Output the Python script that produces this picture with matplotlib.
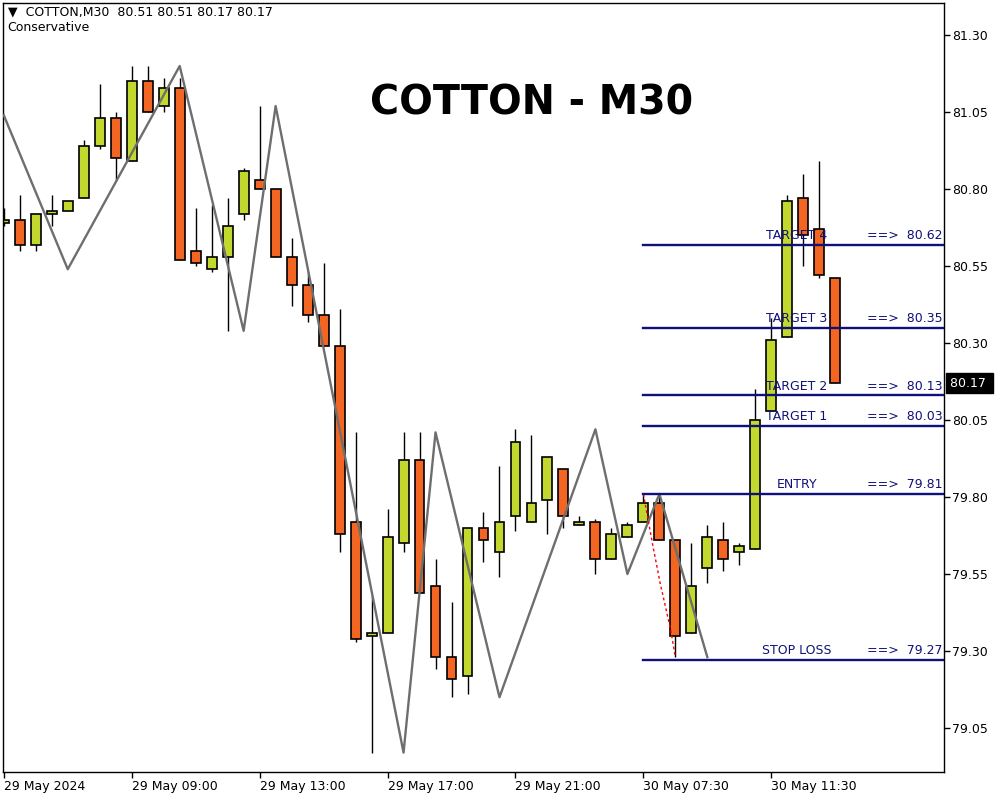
import numpy as np
import matplotlib.pyplot as plt
import matplotlib.transforms as mtransforms


# =========================
# Data (COTTON, M30)
# =========================

opens = [
    80.69, 80.70, 80.62, 80.72, 80.73, 80.77, 80.94, 81.03, 80.89, 81.15,
    81.07, 81.13, 80.60, 80.54, 80.58, 80.72, 80.83, 80.80, 80.58, 80.49,
    80.39, 80.29, 79.72, 79.35, 79.36, 79.65, 79.92, 79.51, 79.28, 79.22,
    79.70, 79.62, 79.74, 79.72, 79.79, 79.89, 79.71, 79.72, 79.60, 79.67,
    79.72, 79.78, 79.66, 79.36, 79.57, 79.66, 79.62, 79.63, 80.08, 80.32,
    80.77, 80.67, 80.51,
]

highs = [
    80.74, 80.78, 80.72, 80.78, 80.76, 80.96, 81.14, 81.05, 81.20, 81.20,
    81.16, 81.16, 80.74, 80.75, 80.77, 80.87, 81.07, 80.80, 80.64, 80.53,
    80.56, 80.41, 80.01, 79.48, 79.76, 80.01, 80.01, 79.60, 79.46, 79.70,
    79.75, 79.90, 80.02, 80.00, 79.93, 79.89, 79.74, 79.73, 79.70, 79.72,
    79.81, 79.81, 79.66, 79.65, 79.71, 79.72, 79.65, 80.15, 80.38, 80.78,
    80.85, 80.89, 80.51,
]

lows = [
    80.68, 80.60, 80.60, 80.68, 80.73, 80.77, 80.93, 80.83, 80.89, 81.05,
    81.05, 80.57, 80.55, 80.53, 80.34, 80.70, 80.80, 80.58, 80.42, 80.37,
    80.29, 79.62, 79.33, 78.97, 79.36, 79.62, 79.49, 79.24, 79.15, 79.16,
    79.59, 79.54, 79.69, 79.72, 79.68, 79.70, 79.71, 79.55, 79.60, 79.67,
    79.72, 79.66, 79.28, 79.36, 79.52, 79.56, 79.58, 79.63, 80.08, 80.32,
    80.55, 80.51, 80.17,
]

closes = [
    80.70, 80.62, 80.72, 80.73, 80.76, 80.94, 81.03, 80.90, 81.15, 81.05,
    81.13, 80.57, 80.56, 80.58, 80.68, 80.86, 80.80, 80.58, 80.49, 80.39,
    80.29, 79.68, 79.34, 79.36, 79.67, 79.92, 79.49, 79.28, 79.21, 79.70,
    79.66, 79.72, 79.98, 79.78, 79.93, 79.74, 79.72, 79.60, 79.68, 79.71,
    79.78, 79.66, 79.35, 79.51, 79.67, 79.60, 79.64, 80.05, 80.31, 80.76,
    80.65, 80.52, 80.17,
]

# zigzag pivots (bar index, price)
zz_bars = [0, 4, 11, 15, 17, 25, 27, 31, 37, 39, 41, 44]
zz_prices = [81.04, 80.54, 81.20, 80.34, 81.07, 78.97, 80.01, 79.15, 80.02, 79.55, 79.81, 79.28]

# red dotted move line
red_bars = [40, 40.6, 41.05, 41.7, 42]
red_prices = [79.81, 79.64, 79.52, 79.37, 79.28]

# trade levels
level_names = ["TARGET 4", "TARGET 3", "TARGET 2", "TARGET 1", "ENTRY", "STOP LOSS"]
level_prices = [80.62, 80.35, 80.13, 80.03, 79.81, 79.27]
level_start = 40

x_tick_bars = [0, 8, 16, 24, 32, 40, 48]
x_tick_labels = [
    "29 May 2024", "29 May 09:00", "29 May 13:00", "29 May 17:00",
    "29 May 21:00", "30 May 07:30", "30 May 11:30",
]

y_ticks = [81.30, 81.05, 80.80, 80.55, 80.30, 80.05, 79.80, 79.55, 79.30, 79.05]

last_price = 80.17


# =========================
# Figure
# =========================

up_color = "#C3D82F"
down_color = "#F26522"
level_color = "#10107A"

fig = plt.figure(
    figsize=(10, 8),
    dpi=100
)

ax = fig.add_axes([0.003, 0.035, 0.941, 0.961])

x = np.arange(len(opens))
o = np.array(opens)
c = np.array(closes)
h = np.array(highs)
l = np.array(lows)

# wicks
ax.vlines(
    x, l, h,
    color="black",
    linewidth=1.0,
    zorder=1
)

# bodies
bottoms = np.minimum(o, c)
heights = np.maximum(np.abs(c - o), 0.006)
colors = [up_color if cc >= oo else down_color for oo, cc in zip(o, c)]

ax.bar(
    x, heights,
    bottom=bottoms,
    width=0.62,
    color=colors,
    edgecolor="black",
    linewidth=1.2,
    zorder=2
)

# zigzag
ax.plot(
    zz_bars, zz_prices,
    color="#6E6E6E",
    linewidth=1.7,
    zorder=4
)

# red dotted line
ax.plot(
    red_bars, red_prices,
    color="red",
    linewidth=1,
    linestyle=(0, (2, 2)),
    zorder=4
)


# =========================
# Levels
# =========================

x_max = 58.8

for name, price in zip(level_names, level_prices):

    ax.plot(
        [level_start, x_max], [price, price],
        color=level_color,
        linewidth=1.7,
        zorder=5
    )

    ax.annotate(
        name,
        xy=(49.6, price),
        xytext=(0, 2),
        textcoords="offset points",
        ha="center",
        va="bottom",
        fontsize=9,
        color=level_color,
        zorder=6
    )

    ax.annotate(
        f"==>  {price:.2f}",
        xy=(58.7, price),
        xytext=(0, 2),
        textcoords="offset points",
        ha="right",
        va="bottom",
        fontsize=9,
        color=level_color,
        zorder=6
    )


# =========================
# Axes
# =========================

ax.set_xlim(-0.05, x_max)
ax.set_ylim(78.907, 81.404)

ax.set_xticks(x_tick_bars)
ax.set_xticklabels(x_tick_labels, ha="left", fontsize=9)

ax.yaxis.tick_right()
ax.set_yticks(y_ticks)
ax.set_yticklabels([f"{v:.2f}" for v in y_ticks], fontsize=9)

ax.tick_params(
    axis="both",
    direction="out",
    length=4,
    width=1,
    pad=2
)

for spine in ax.spines.values():
    spine.set_linewidth(1)
    spine.set_color("black")

# current price box
trans = mtransforms.blended_transform_factory(ax.transAxes, ax.transData)

ax.text(
    1.006, last_price,
    f"{last_price:.2f} ",
    transform=trans,
    ha="left",
    va="center",
    fontsize=9,
    color="white",
    bbox=dict(boxstyle="square,pad=0.3", facecolor="black", edgecolor="black"),
    clip_on=False,
    zorder=10
)


# =========================
# Texts
# =========================

fig.text(
    0.008, 0.985,
    "\u25bc  COTTON,M30  80.51 80.51 80.17 80.17",
    fontsize=9,
    ha="left",
    va="center"
)

fig.text(
    0.007, 0.966,
    "Conservative",
    fontsize=9,
    ha="left",
    va="center"
)

fig.text(
    0.532, 0.871,
    "COTTON - M30",
    fontsize=28.5,
    fontweight="bold",
    ha="center",
    va="center"
)

fig.savefig("out.png", dpi=100)
